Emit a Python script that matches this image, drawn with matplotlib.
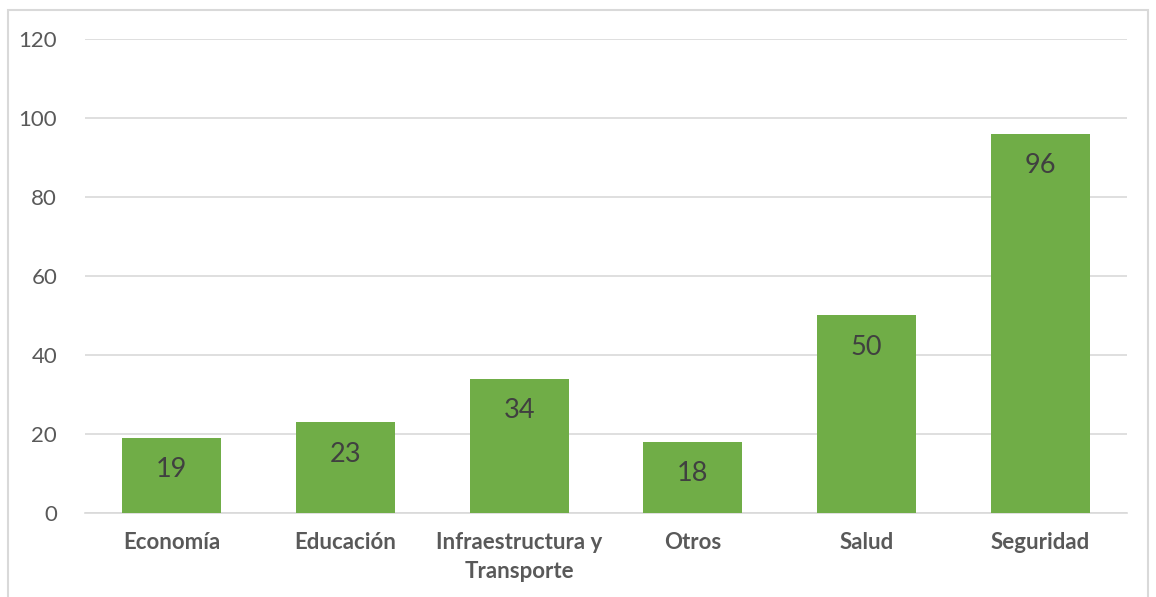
"""
Bar chart — categorías (estilo Excel)
"""
import matplotlib.pyplot as plt
from matplotlib.patches import Rectangle
import matplotlib

matplotlib.rcParams['font.family'] = ['Lato', 'DejaVu Sans']

categories = ['Economía', 'Educación', 'Infraestructura y\nTransporte', 'Otros', 'Salud', 'Seguridad']
values = [19, 23, 34, 18, 50, 96]
y_ticks = [0, 20, 40, 60, 80, 100, 120]

bar_color = '#70AD47'
text_color = '#595959'
grid_color = '#D9D9D9'

fig = plt.figure(figsize=(11.56, 5.97), dpi=100)
ax = fig.add_axes([0.0735, 0.1407, 0.9015, 0.794])

x = range(len(categories))
bars = ax.bar(x, values, width=0.57, color=bar_color, zorder=3)

ax.set_xlim(-0.5, len(categories) - 0.5)
ax.set_ylim(0, 120)
ax.set_yticks(y_ticks)
ax.set_yticklabels([str(t) for t in y_ticks], fontsize=16, color=text_color)
ax.set_xticks(list(x))
ax.set_xticklabels(categories, fontsize=16, fontweight='bold', color=text_color,
                   linespacing=1.45)
ax.tick_params(axis='both', length=0)
ax.tick_params(axis='y', pad=20)
ax.tick_params(axis='x', pad=14)

ax.grid(axis='y', color=grid_color, linewidth=1.2, zorder=0)
for s in ['top', 'right', 'left']:
    ax.spines[s].set_visible(False)
ax.spines['bottom'].set_color(grid_color)
ax.spines['bottom'].set_linewidth(1.2)

# etiquetas de valor dentro de las barras
for xi, v in zip(x, values):
    ax.annotate(str(v), (xi, v), xytext=(0, -23), textcoords='offset points',
                ha='center', va='center', fontsize=19.5, color='#404040', zorder=4)

# borde del área del gráfico
border = Rectangle((8 / 1156, -0.05), (1148 - 8) / 1156, 1.05 - 10 / 597,
                   transform=fig.transFigure, fill=False,
                   edgecolor=grid_color, linewidth=1.5, clip_on=False)
fig.patches.append(border)

plt.savefig('out.png', dpi=100, facecolor='white')
plt.close()
